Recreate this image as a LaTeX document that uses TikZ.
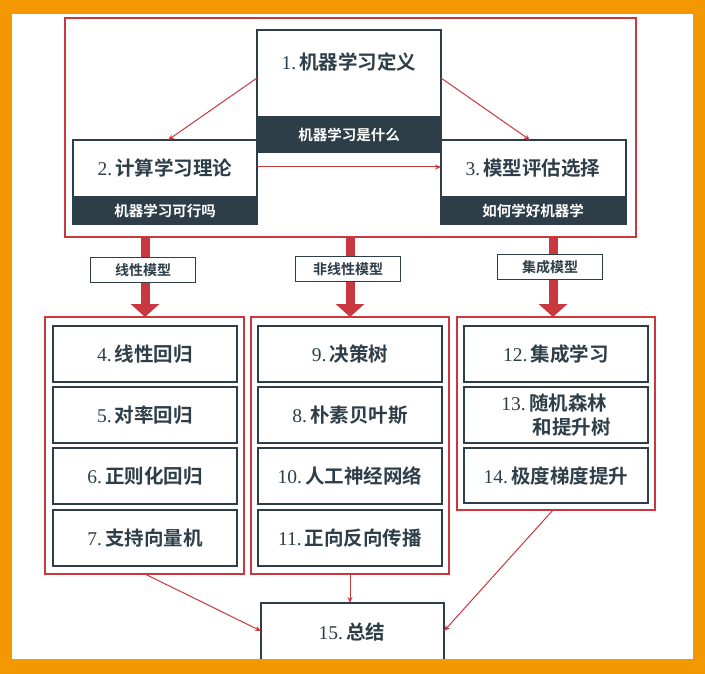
\documentclass[tikz,border=0pt]{standalone}
\usepackage{fontspec}
\newfontfamily\cjk{Noto Sans CJK SC Bold}
\newfontfamily\numf{Liberation Serif}
\usetikzlibrary{arrows.meta}
\definecolor{rd}{HTML}{C8383E}
\definecolor{dk}{HTML}{2E3E48}
\definecolor{og}{HTML}{F39800}
\tikzset{x=1pt,y=-1pt,
 grp/.style={draw=rd,line width=1.3pt},
 ibox/.style={draw=dk,line width=1.5pt,fill=white},
 band/.style={fill=dk},
 ttl/.style={font=\fontsize{19.5}{24}\selectfont\color{dk}},
 sub/.style={font=\cjk\fontsize{14.5}{14.5}\selectfont,text=white},
 lbl/.style={draw=dk,line width=1.3pt,fill=white,font=\cjk\fontsize{14}{14}\selectfont\color{dk},minimum width=105pt,minimum height=25pt,inner sep=0pt},
 thin/.style={draw=rd,line width=1pt,-{Stealth[length=6pt,width=5pt]}},
 fat/.style={draw=rd,line width=9pt,-{Triangle[length=13pt,width=28pt]}}}
\newcommand\T[2]{{\numf #1\,}{\cjk #2}}
\begin{document}
\begin{tikzpicture}
\fill[og] (0,0) rectangle (705,674);
\fill[white] (12,14) rectangle (693,659);
% top group
\draw[grp] (65,18) rectangle (636,237);
\coordinate (g0b1) at (145,237); \coordinate (g0b2) at (350,237); \coordinate (g0b3) at (553,237);
% box1
\draw[ibox] (257,30) rectangle (441,152);
\fill[band] (257,116) rectangle (441,152);
\node[ttl] (t1) at (349,62) {\T{1.}{机器学习定义}};
\node[sub] (s1) at (349,135) {机器学习是什么};
\coordinate (b1l) at (257,78); \coordinate (b1r) at (441,78);
% box2
\draw[ibox] (73,140) rectangle (257,224);
\fill[band] (73,196) rectangle (257,224);
\node[ttl] (t2) at (165,168) {\T{2.}{计算学习理论}};
\node[sub] (s2) at (165,211) {机器学习可行吗};
\coordinate (b2t) at (168,140); \coordinate (b2r) at (257,167);
% box3
\draw[ibox] (441,140) rectangle (626,224);
\fill[band] (441,196) rectangle (626,224);
\node[ttl] (t3) at (533,168) {\T{3.}{模型评估选择}};
\node[sub] (s3) at (533,211) {如何学好机器学};
\coordinate (b3t) at (530,140); \coordinate (b3l) at (441,167);
\draw[thin] (b1l) -- (b2t);
\draw[thin] (b1r) -- (b3t);
\draw[thin] (b2r) -- (b3l);
% fat arrows
\coordinate (a1) at (145,317); \coordinate (a2) at (350,317); \coordinate (a3) at (553,317);
\draw[fat] (g0b1) -- (a1);
\draw[fat] (g0b2) -- (a2);
\draw[fat] (g0b3) -- (a3);
\node[lbl] (l1) at (143,270) {线性模型};
\node[lbl] (l2) at (348,269) {非线性模型};
\node[lbl] (l3) at (550,267) {集成模型};
% groups
\draw[grp] (45,317) rectangle (244,574);
\draw[grp] (251,317) rectangle (449,574);
\draw[grp] (457,317) rectangle (655,510);
\foreach \y/\n/\t [count=\i] in {326/4./线性回归,387/5./对率回归,448/6./正则化回归,510/7./支持向量机}{
 \draw[ibox] (53,\y) rectangle (237,\y+56);
 \node[ttl] (L\i) at (145,\y+28) {\T{\n}{\t}};}
\foreach \y/\n/\t [count=\i] in {326/9./决策树,387/8./朴素贝叶斯,448/10./人工神经网络,510/11./正向反向传播}{
 \draw[ibox] (258,\y) rectangle (442,\y+56);
 \node[ttl] (M\i) at (350,\y+28) {\T{\n}{\t}};}
\draw[ibox] (464,326) rectangle (648,382);
\node[ttl] (R1) at (556,354) {\T{12.}{集成学习}};
\draw[ibox] (464,387) rectangle (648,443);
\node[ttl,align=left] (R2) at (556,415) {\T{13.}{随机森林}\\\hspace*{1.6em}{\cjk 和提升树}};
\draw[ibox] (464,448) rectangle (648,503);
\node[ttl] (R3) at (556,476) {\T{14.}{极度梯度提升}};
% box15
\draw[ibox] (261,603) rectangle (444,670);
\node[ttl] (F) at (352,632) {\T{15.}{总结}};
\coordinate (gl) at (145,574); \coordinate (gm) at (350,574); \coordinate (gr) at (553,510);
\coordinate (fl) at (261,631); \coordinate (ft) at (350,603); \coordinate (fr) at (444,631);
\draw[thin] (gl) -- (fl);
\draw[thin] (gm) -- (ft);
\draw[thin] (gr) -- (fr);
\fill[og] (0,659) rectangle (705,674);
\end{tikzpicture}
\end{document}
